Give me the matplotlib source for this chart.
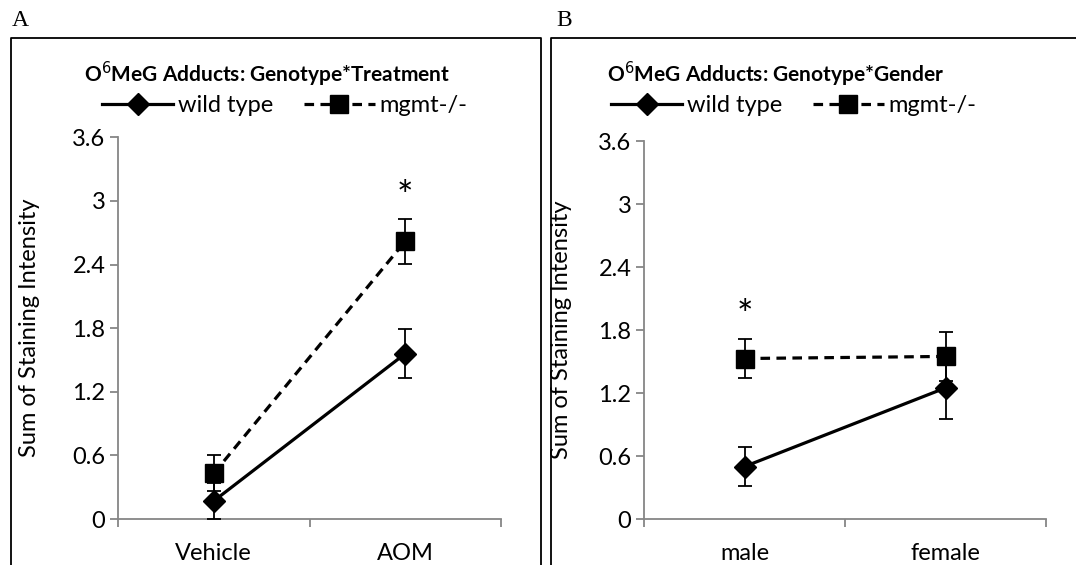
import matplotlib
matplotlib.use("Agg")
import matplotlib.pyplot as plt
from matplotlib.lines import Line2D

plt.rcParams['font.family'] = ['Lato', 'DejaVu Sans']

# data
treat_cats = ['Vehicle', 'AOM']
treat_wt = [0.17, 1.56]
treat_wt_err = [0.17, 0.23]
treat_ko = [0.43, 2.62]
treat_ko_err = [0.17, 0.21]

gender_cats = ['male', 'female']
gender_wt = [0.50, 1.25]
gender_wt_err = [0.19, 0.30]
gender_ko = [1.53, 1.55]
gender_ko_err = [0.19, 0.23]

yticks = [0, 0.6, 1.2, 1.8, 2.4, 3.0, 3.6]
ytick_labels = ['0', '0.6', '1.2', '1.8', '2.4', '3', '3.6']

GRAY = '#868686'
W, H = 1076, 565
FS = 17

fig = plt.figure(figsize=(W / 100, H / 100), dpi=100)


def px(x, y):
    return x / W, 1 - y / H


def draw_panel(rect, cats, wt, wt_err, ko, ko_err, star_idx):
    ax = fig.add_axes(rect)
    xs = [0.5, 1.5]
    ax.errorbar(xs, wt, yerr=wt_err, color='black', lw=2.3, marker='D', ms=11,
                capsize=5, elinewidth=1.3, capthick=1.3, zorder=3)
    ax.errorbar(xs, ko, yerr=ko_err, color='black', lw=2.3, ls=(0, (3, 2)),
                marker='s', ms=13, capsize=5, elinewidth=1.3, capthick=1.3, zorder=4)
    ax.set_xlim(0, 2)
    ax.set_ylim(0, 3.6)
    ax.set_yticks(yticks)
    ax.set_yticklabels(ytick_labels, fontsize=FS)
    ax.set_xticks([0, 1, 2])
    ax.set_xticklabels([])
    ax.set_xticks(xs, minor=True)
    ax.set_xticklabels(cats, minor=True, fontsize=FS)
    ax.tick_params(axis='x', which='minor', length=0, pad=17)
    ax.tick_params(axis='x', which='major', length=6, width=1.3, color=GRAY)
    ax.tick_params(axis='y', length=6, width=1.3, color=GRAY, pad=3)
    for s in ['top', 'right']:
        ax.spines[s].set_visible(False)
    for s in ['left', 'bottom']:
        ax.spines[s].set_color(GRAY)
        ax.spines[s].set_linewidth(1.3)
    ax.set_ylabel('Sum of Staining Intensity', fontsize=FS)
    ax.text(xs[star_idx], ko[star_idx] + ko_err[star_idx] + 0.03, '*',
            ha='center', va='bottom', fontsize=28)
    return ax


axA = draw_panel([118 / W, (H - 519) / H, (501 - 118) / W, (519 - 137.4) / H],
                 treat_cats, treat_wt, treat_wt_err, treat_ko, treat_ko_err, 1)
axB = draw_panel([644 / W, (H - 519) / H, (1046 - 644) / W, (519 - 141.4) / H],
                 gender_cats, gender_wt, gender_wt_err, gender_ko, gender_ko_err, 0)
axA.yaxis.set_label_coords(-78 / 383, 0.5)
axB.yaxis.set_label_coords(-72 / 402, 0.5)

# titles and legends sit above the plot area, centred on the panel boxes
handles = [Line2D([], [], color='black', lw=2.3, marker='D', ms=11),
           Line2D([], [], color='black', lw=2.3, ls=(0, (3, 2)), marker='s', ms=13)]
for cx, title in [(267, 'O$^{6}$MeG Adducts: Genotype*Treatment'),
                  (776, 'O$^{6}$MeG Adducts: Genotype*Gender')]:
    fig.text(*px(cx, 74), title, ha='center', va='center', fontsize=15,
             fontweight='bold')
    fig.legend(handles, ['wild type', 'mgmt-/-'], loc='center',
               bbox_to_anchor=px(cx + 18, 106), ncol=2, frameon=False,
               fontsize=FS, handlelength=3, handletextpad=0.2, columnspacing=1.3)

# panel frames
lw_frame = 1.3
fig.add_artist(Line2D([11 / W, 11 / W, 541 / W, 541 / W],
                      [-0.01, 1 - 38 / H, 1 - 38 / H, -0.01],
                      transform=fig.transFigure, color='black', lw=lw_frame))
fig.add_artist(Line2D([551 / W, 551 / W, 1.01],
                      [-0.01, 1 - 38 / H, 1 - 38 / H],
                      transform=fig.transFigure, color='black', lw=lw_frame))

fig.text(*px(12, 20), 'A', ha='left', va='center', fontsize=17,
         family='Liberation Serif')
fig.text(*px(556, 20), 'B', ha='left', va='center', fontsize=17,
         family='Liberation Serif')

fig.savefig('out.png', dpi=100)
